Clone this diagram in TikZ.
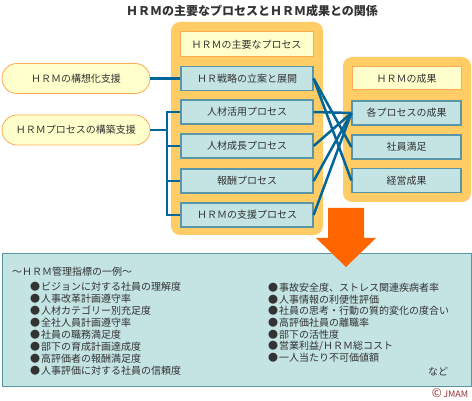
\documentclass[tikz,border=0pt]{standalone}
\usepackage{fontspec}
\setmainfont{Noto Sans CJK JP}
\definecolor{panelorange}{HTML}{FFCC66}
\definecolor{kopfgelb}{HTML}{FFFFCC}
\definecolor{kopfrand}{HTML}{FFAA55}
\definecolor{kastenblau}{HTML}{C4E3E3}
\definecolor{kastenrand}{HTML}{5B95A8}
\definecolor{linienblau}{HTML}{006699}
\definecolor{pfeilorange}{HTML}{FF6600}
\definecolor{textgrau}{HTML}{333333}
\definecolor{copyrot}{HTML}{993333}
\begin{document}
\begin{tikzpicture}[x=1pt,y=-1pt,
	kopf/.style={draw=kopfrand, fill=kopfgelb, line width=1pt, inner sep=0pt, minimum height=24pt, text=textgrau, font=\fontsize{10}{12}\selectfont},
	kasten/.style={draw=kastenrand, fill=kastenblau, line width=1.2pt, inner sep=0pt, minimum height=24pt, text=textgrau, font=\fontsize{10}{12}\selectfont},
	pille/.style={draw=kopfrand, fill=kopfgelb, line width=0.8pt, rounded corners=15pt, inner sep=0pt, minimum width=148pt, minimum height=30pt, text=textgrau, font=\fontsize{10}{12}\selectfont},
	verbindung/.style={draw=linienblau, line width=2.5pt},
	liste/.style={anchor=west, inner sep=0pt, text=textgrau, font=\fontsize{10}{12}\selectfont}]
		\useasboundingbox (0,0) rectangle (472,401);
		%Titel
		\node at (252,11) [font=\bfseries\fontsize{12}{14}\selectfont, text=textgrau] (titel) {ＨＲＭの主要なプロセスとＨＲＭ成果との関係};
		%Rahmen
		\fill[panelorange, rounded corners=9pt] (171,22) rectangle (323,235);
		\fill[panelorange, rounded corners=9pt] (343,57) rectangle (471,202);
		%Kopfzeilen
		\node at (246.5,44.5) [kopf, minimum width=133pt, minimum height=25pt] (kopf1) {ＨＲＭの主要なプロセス};
		\node at (406.5,78.5) [kopf, minimum width=109pt, minimum height=23pt] (kopf2) {ＨＲＭの成果};
		%Prozesse
		\node at (247,78.5) [kasten, minimum width=132pt] (prozess1) {ＨＲ戦略の立案と展開};
		\node at (247,112) [kasten, minimum width=132pt] (prozess2) {人材活用プロセス};
		\node at (247,146) [kasten, minimum width=132pt] (prozess3) {人材成長プロセス};
		\node at (247,181) [kasten, minimum width=132pt] (prozess4) {報酬プロセス};
		\node at (247,215) [kasten, minimum width=132pt] (prozess5) {ＨＲＭの支援プロセス};
		%Ergebnisse
		\node at (406.5,113) [kasten, minimum width=109pt] (ergebnis1) {各プロセスの成果};
		\node at (406.5,147) [kasten, minimum width=109pt] (ergebnis2) {社員満足};
		\node at (406.5,180.5) [kasten, minimum width=109pt] (ergebnis3) {経営成果};
		%Unterstuetzung
		\node at (76,78.5) [pille] (stuetz1) {ＨＲＭの構想化支援};
		\node at (76,130) [pille] (stuetz2) {ＨＲＭプロセスの構築支援};
		%Verbindungen links
		\coordinate (verteiler) at (167,130);
		\draw[verbindung] (stuetz1.east) -- (prozess1.west);
		\draw[verbindung] (stuetz2.east) -- (verteiler);
		\draw[verbindung] (prozess2.west) -- (verteiler |- prozess2.west) -- (verteiler |- prozess5.west) -- (prozess5.west);
		\foreach \i in {3,4} \draw[verbindung] (verteiler |- prozess\i.west) -- (prozess\i.west);
		%Verbindungen rechts
		\draw[verbindung] (prozess1.east) -- (ergebnis2.west);
		\draw[verbindung] (prozess1.east) -- (ergebnis3.west);
		\foreach \i in {2,...,5} \draw[verbindung] (prozess\i.east) -- (ergebnis1.west);
		%Kennzahlen
		\draw[draw=kastenrand, fill=kastenblau, line width=1pt] (2,254) rectangle (471,386);
		\node at (12,272) [liste] (kennkopf) {～ＨＲＭ管理指標の一例～};
		\foreach \txt [count=\i] in {ビジョンに対する社員の理解度, 人事改革計画遵守率, 人材カテゴリー別充足度, 全社人員計画遵守率, 社員の職務満足度, 部下の育成計画達成度, 高評価者の報酬満足度, 人事評価に対する社員の信頼度}
			\node at (30,275+12*\i) [liste] (links\i) {●\hspace{1pt}\txt};
		\foreach \txt [count=\i] in {事故安全度、ストレス関連疾病者率, 人事情報の利便性評価, 社員の思考・行動の質的変化の度合い, 高評価社員の離職率, 部下の活性度, 営業利益/ＨＲＭ総コスト, 一人当たり不可価値額}
			\node at (268,276+11.7*\i) [liste] (rechts\i) {●\hspace{1pt}\txt};
		\node at (438,372) [liste, anchor=center] (nado) {など};
		%Pfeil
		\fill[pfeilorange] (328,208) -- (364,208) -- (364,238) -- (376,238) -- (346,267) -- (316,238) -- (328,238) -- cycle;
		%Copyright
		\node at (450,393) [inner sep=0pt, text=copyrot, font=\fontsize{9}{10}\selectfont] (copy) {{\fontsize{12}{12}\selectfont ©}\,JMAM};
\end{tikzpicture}
\end{document}
